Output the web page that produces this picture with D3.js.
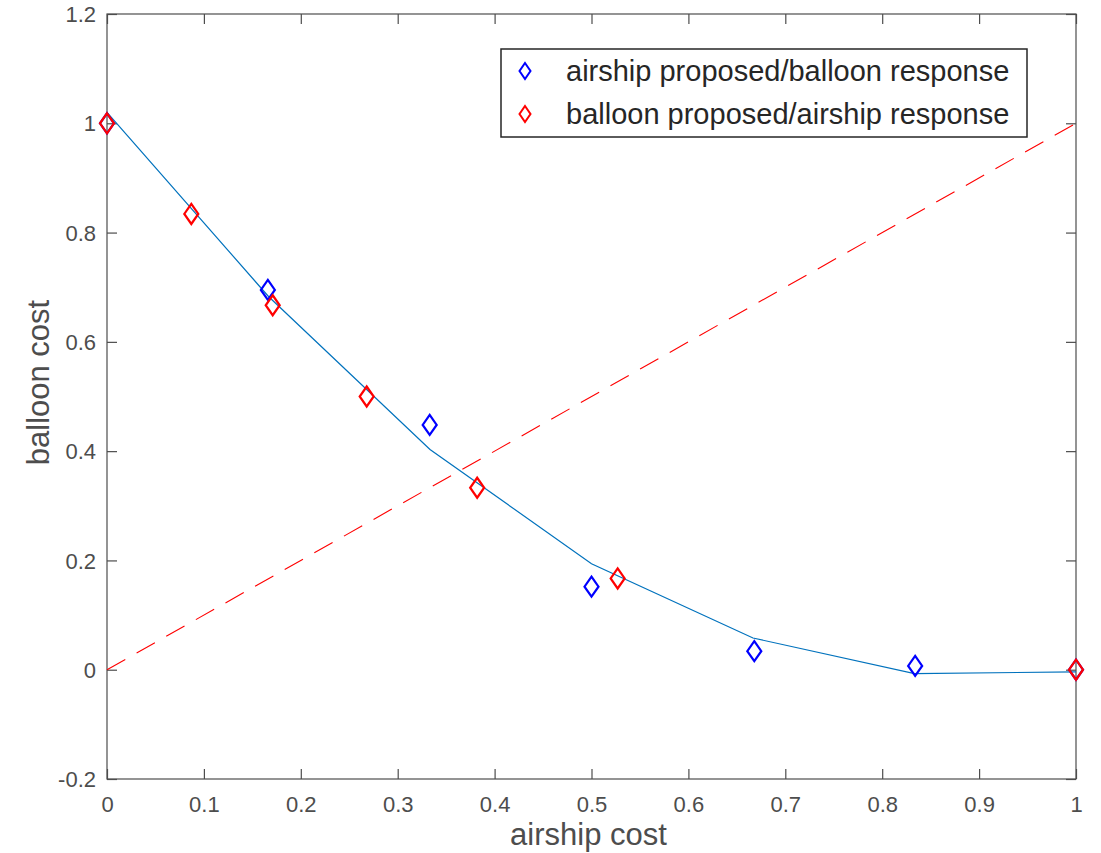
<!DOCTYPE html>
<html><head><meta charset="utf-8">
<script src="https://cdn.jsdelivr.net/npm/d3@7"></script>
<style>body{margin:0;background:#fff}svg{display:block}text{font-family:"Liberation Sans",Arial,Helvetica,sans-serif}</style>
</head><body><svg id="c" width="1101" height="853"></svg>
<script>
const lineX = [0, 1/6, 1/3, 1/2, 2/3, 5/6, 1];
const lineY = [1.02, 0.683, 0.403, 0.194, 0.058, -0.007, -0.004];
const blueX = [0, 0.166, 0.333, 0.5, 0.668, 0.834, 1];
const blueY = [1.0, 0.695, 0.448, 0.152, 0.034, 0.007, 0.0];
const redX = [0, 0.087, 0.171, 0.268, 0.382, 0.527, 1];
const redY = [1.0, 0.834, 0.667, 0.5, 0.333, 0.167, 0.0];
const diagX = [0, 1];
const diagY = [0, 1];
const xTicks = [0,0.1,0.2,0.3,0.4,0.5,0.6,0.7,0.8,0.9,1];
const yTicks = [-0.2,0,0.2,0.4,0.6,0.8,1,1.2];
const legendLabels = ["airship proposed/balloon response","balloon proposed/airship response"];

const L=107,R=1076,T=14,B=779;
const svg=d3.select("#c");
const x=d3.scaleLinear().domain([0,1]).range([L,R]);
const y=d3.scaleLinear().domain([-0.2,1.2]).range([B,T]);
const axCol="#4d4d4d";

svg.append("rect").attr("x",L).attr("y",T).attr("width",R-L).attr("height",B-T)
  .attr("fill","none").attr("stroke",axCol).attr("stroke-width",1.2);

const fmt=d=>d===0?"0":(d===1?"1":d3.format(".1f")(d).replace("\u2212","-"));
const gx=svg.append("g").attr("transform",`translate(0,${B})`)
  .call(d3.axisBottom(x).tickValues(xTicks).tickFormat(fmt).tickSize(-10).tickPadding(17));
const gxt=svg.append("g").attr("transform",`translate(0,${T})`)
  .call(d3.axisTop(x).tickValues(xTicks).tickFormat("").tickSize(-10));
const gy=svg.append("g").attr("transform",`translate(${L},0)`)
  .call(d3.axisLeft(y).tickValues(yTicks).tickFormat(fmt).tickSize(-10).tickPadding(11));
const gyr=svg.append("g").attr("transform",`translate(${R},0)`)
  .call(d3.axisRight(y).tickValues(yTicks).tickFormat("").tickSize(-10));
[gx,gxt,gy,gyr].forEach(g=>{
  g.select(".domain").remove();
  g.selectAll(".tick line").attr("stroke",axCol).attr("stroke-width",1.2);
  g.selectAll(".tick text").attr("fill",axCol).style("font-size","22px");
});
gy.selectAll(".tick text").attr("dy","0.35em");

svg.append("text").attr("x",(L+R)/2-3).attr("y",845).attr("text-anchor","middle")
  .attr("fill",axCol).style("font-size","31px").text("airship cost");
svg.append("text").attr("transform",`translate(49,${(T+B)/2-14}) rotate(-90)`).attr("text-anchor","middle")
  .attr("fill",axCol).style("font-size","31px").text("balloon cost");

svg.append("path").datum(diagX.map((d,i)=>[d,diagY[i]]))
  .attr("d",d3.line().x(d=>x(d[0])).y(d=>y(d[1])))
  .attr("fill","none").attr("stroke","#ff0000").attr("stroke-width",1.1).attr("stroke-dasharray","21,13");

svg.append("path").datum(lineX.map((d,i)=>[d,lineY[i]]))
  .attr("d",d3.line().x(d=>x(d[0])).y(d=>y(d[1])))
  .attr("fill","none").attr("stroke","#0072BD").attr("stroke-width",1.2);

const dia=(cx,cy)=>`M${cx},${cy-10}L${cx+7},${cy}L${cx},${cy+10}L${cx-7},${cy}Z`;
svg.append("g").selectAll("path").data(blueX.map((d,i)=>[d,blueY[i]])).join("path")
  .attr("d",d=>dia(x(d[0]),y(d[1]))).attr("fill","none").attr("stroke","#0000ff").attr("stroke-width",2.2);
svg.append("g").selectAll("path").data(redX.map((d,i)=>[d,redY[i]])).join("path")
  .attr("d",d=>dia(x(d[0]),y(d[1]))).attr("fill","none").attr("stroke","#ff0000").attr("stroke-width",2.2);

const lg=svg.append("g");
lg.append("rect").attr("x",501).attr("y",49).attr("width",526).attr("height",88)
  .attr("fill","#fff").attr("stroke","#262626").attr("stroke-width",1.5);
const cols=["#0000ff","#ff0000"];
legendLabels.forEach((t,i)=>{
  const cy=71+i*43;
  lg.append("path").attr("d",`M525,${cy-8}L530.5,${cy}L525,${cy+8}L519.5,${cy}Z`).attr("fill","none").attr("stroke",cols[i]).attr("stroke-width",2);
  lg.append("text").attr("x",566).attr("y",cy).attr("dy","0.35em").attr("fill","#262626").style("font-size","29px").text(t);
});
</script></body></html>
